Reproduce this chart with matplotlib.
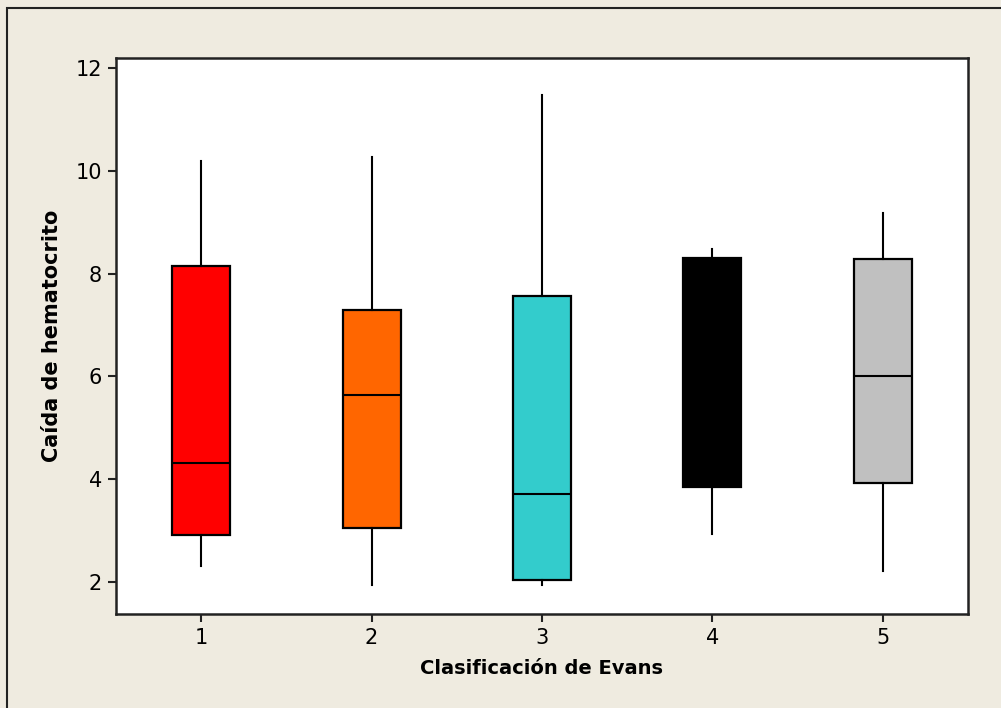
import matplotlib
matplotlib.use("Agg")
import matplotlib.pyplot as plt
from matplotlib.patches import Rectangle

# Evans classification groups and box statistics
groups = ['1', '2', '3', '4', '5']
whisker_low = [2.31, 1.94, 1.94, 2.93, 2.21]
q1 = [2.91, 3.05, 2.04, 3.85, 3.93]
median = [4.32, 5.64, 3.71, 6.00, 6.01]
q3 = [8.15, 7.29, 7.56, 8.30, 8.28]
whisker_high = [10.19, 10.27, 11.47, 8.48, 9.18]
box_colors = ['#FF0000', '#FF6600', '#33CCCC', '#000000', '#C0C0C0']

bg = '#EFEBE0'

fig = plt.figure(figsize=(10.01, 7.08), dpi=100, facecolor=bg)
# outer frame
fig.patches.append(Rectangle((7 / 1001, -0.05), 1.1, 1 - 8 / 708 + 0.05,
                             transform=fig.transFigure, fill=False,
                             edgecolor='#222222', linewidth=1.5))

ax = fig.add_axes([116 / 1001, 94 / 708, 852 / 1001, 556 / 708])
ax.set_facecolor('white')

stats = []
for i, g in enumerate(groups):
    stats.append({'label': g, 'whislo': whisker_low[i], 'q1': q1[i],
                  'med': median[i], 'q3': q3[i], 'whishi': whisker_high[i],
                  'fliers': []})

positions = list(range(1, len(groups) + 1))
bp = ax.bxp(stats, positions=positions, widths=0.34, patch_artist=True,
            showcaps=False, showfliers=False,
            boxprops=dict(linewidth=1.6, edgecolor='black'),
            whiskerprops=dict(linewidth=1.5, color='black'),
            medianprops=dict(linewidth=1.5, color='black'))
for patch, c in zip(bp['boxes'], box_colors):
    patch.set_facecolor(c)

ax.set_xlim(0.5, 5.5)
ax.set_ylim(1.38, 12.19)
ax.set_yticks([2, 4, 6, 8, 10, 12])
ax.set_xticks(positions)
ax.set_xticklabels(groups)
ax.tick_params(labelsize=15, length=6, width=1.5, color='#222222', pad=4)

for s in ax.spines.values():
    s.set_linewidth(1.8)
    s.set_color('#222222')

ax.set_xlabel('Clasificación de Evans', fontsize=14, fontweight='bold', labelpad=8)
ax.set_ylabel('Caída de hematocrito', fontsize=15, fontweight='bold', labelpad=10)

fig.savefig('out.png', dpi=100, facecolor=bg)
